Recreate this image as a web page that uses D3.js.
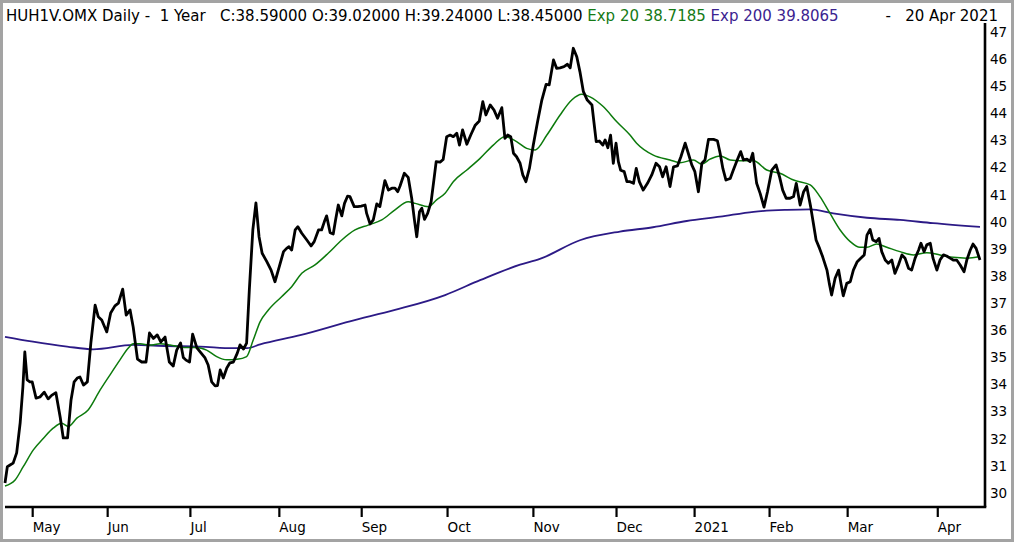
<!DOCTYPE html>
<html>
<head>
<meta charset="utf-8">
<script src="https://cdn.jsdelivr.net/npm/d3@7"></script>
<style>
body { margin: 0; background: #fff; }
text { font-family: "DejaVu Sans", sans-serif; }
.header { white-space: pre; }
</style>
</head>
<body>
<div id="canvas"></div>
<script>
"use strict"

/* Configuration variables: drawing */
let svgWidth = 1014;
let svgHeight = 542;
let plotLeft = 5;
let plotRight = 985;
let plotBottom = 507;

/* Header texts */
let headerMain = "HUH1V.OMX Daily -  1 Year   C:38.59000 O:39.02000 H:39.24000 L:38.45000";
let headerEma20 = "Exp 20 38.7185";
let headerEma200 = "Exp 200 39.8065";
let headerDate = "-   20 Apr 2021";

/* Daily close, x = trading day since start (0 .. 251) */
let closeDay = [0, 0.6, 1.3, 2.1, 3.0, 3.9, 4.6, 5.1, 5.7, 6.4,
    7.0, 8.0, 9.0, 10.1, 11.1, 12.0, 13.1, 14.2, 15.0, 16.1,
    17.0, 17.8, 18.6, 19.3, 20.2, 21.2, 22.1, 23.2, 24.0, 24.9,
    26.2, 27.2, 28.3, 29.2, 30.3, 31.2, 32.2, 33.0, 34.1, 35.2,
    36.3, 37.2, 38.2, 39.2, 40.1, 41.2, 42.3, 43.3, 44.2, 45.2,
    45.9, 46.6, 47.5, 48.3, 49.4, 50.5, 51.5, 52.3, 53.2, 54.1,
    54.7, 55.4, 56.2, 57.1, 57.9, 58.8, 59.8, 60.5, 61.4, 62.2,
    62.9, 63.8, 64.6, 65.4, 66.2, 67.4, 68.5, 69.5, 70.5, 71.7,
    72.5, 73.1, 73.8, 74.7, 75.4, 76.4, 77.7, 78.8, 79.6, 80.7,
    81.5, 82.2, 82.8, 83.7, 84.5, 85.1, 85.8, 86.7, 87.4, 88.2,
    88.8, 89.9, 90.8, 91.7, 92.7, 93.1, 94.0, 94.8, 95.7, 96.5,
    97.8, 98.7, 99.6, 100.4, 101.1, 101.7, 102.8, 103.8, 104.7, 105.4,
    106.0, 106.7, 107.3, 108.0, 108.8, 109.7, 110.3, 111.0, 112.0, 112.8,
    113.7, 114.6, 115.4, 116.3, 117.0, 117.8, 118.9, 119.9, 121.0, 122.1,
    123.0, 123.8, 124.9, 125.9, 126.8, 127.9, 128.7, 129.4, 130.2, 130.9,
    131.7, 132.6, 133.3, 134.1, 135.0, 136.0, 137.1, 138.2, 139.3, 140.1,
    141.2, 142.0, 142.9, 143.9, 144.8, 145.5, 146.3, 147.2, 148.0, 148.9,
    149.9, 151.1, 151.6, 152.2, 153.0, 153.9, 154.5, 155.2, 155.9, 156.6,
    157.3, 157.9, 158.5, 159.4, 160.1, 160.9, 161.8, 162.5, 163.3, 164.3,
    165.4, 166.5, 167.6, 168.5, 169.3, 170.2, 171.2, 172.1, 173.1, 174.0,
    175.1, 175.9, 176.8, 177.6, 178.5, 179.4, 180.2, 181.1, 182.4, 183.4,
    184.1, 184.8, 185.6, 186.7, 187.5, 188.5, 189.4, 190.1, 191.0, 191.8,
    192.5, 193.5, 194.4, 195.4, 196.3, 197.4, 198.5, 199.4, 200.2, 201.1,
    202.1, 203.0, 203.7, 204.7, 205.6, 206.4, 207.4, 208.1, 208.8, 209.7,
    210.5, 211.6, 212.2, 212.8, 213.7, 214.6, 215.2, 215.8, 216.7, 217.6,
    218.4, 219.4, 220.3, 221.2, 221.9, 222.7, 223.4, 224.3, 225.0, 225.7,
    226.6, 227.4, 228.3, 229.1, 230.0, 230.9, 231.7, 232.6, 233.4, 234.3,
    235.2, 235.8, 236.6, 237.3, 238.2, 238.9, 239.9, 240.7, 241.6, 242.4,
    243.3, 244.1, 245.0, 245.9, 246.9, 247.6, 248.5, 249.2, 250.0, 251.0];

let closeValue = [30.37, 30.97, 31.03, 31.10, 31.48, 32.58, 33.90, 35.20, 34.17, 34.10,
    34.10, 33.50, 33.54, 33.72, 33.47, 33.60, 33.70, 32.80, 32.03, 32.03,
    33.43, 34.10, 34.24, 34.28, 33.98, 34.10, 35.53, 36.93, 36.50, 36.38,
    35.94, 36.64, 36.90, 37.00, 37.52, 36.56, 36.75, 36.12, 34.94, 34.83,
    34.83, 35.90, 35.70, 35.83, 35.57, 35.75, 34.83, 34.68, 35.27, 35.53,
    35.00, 34.90, 34.83, 35.86, 35.35, 35.16, 34.98, 34.72, 34.10, 33.95,
    33.96, 34.54, 34.24, 34.61, 34.80, 34.83, 35.16, 35.46, 35.31, 35.53,
    37.49, 39.70, 40.70, 39.45, 38.84, 38.53, 38.22, 37.79, 38.29, 38.90,
    39.02, 39.08, 38.96, 39.70, 39.82, 39.58, 39.33, 39.11, 39.27, 39.70,
    39.70, 40.00, 40.22, 39.60, 39.55, 40.07, 40.62, 40.22, 40.68, 40.95,
    40.93, 40.56, 40.56, 40.58, 40.62, 40.31, 39.92, 40.07, 40.66, 40.56,
    41.52, 41.17, 41.24, 41.24, 41.11, 41.32, 41.79, 41.64, 40.87, 40.07,
    39.45, 40.37, 40.50, 40.09, 40.31, 40.74, 41.42, 42.22, 42.20, 42.30,
    43.14, 43.20, 43.14, 43.27, 42.83, 43.39, 42.86, 43.20, 43.55, 43.72,
    44.43, 43.94, 44.31, 44.12, 43.82, 44.21, 43.08, 43.20, 43.14, 42.53,
    42.40, 42.16, 41.73, 41.48, 41.97, 42.83, 43.69, 44.49, 45.07, 45.05,
    45.97, 45.66, 45.68, 45.72, 45.81, 45.68, 46.40, 46.09, 45.54, 44.80,
    44.49, 44.31, 43.69, 42.96, 42.98, 42.83, 43.02, 42.73, 43.20, 42.16,
    42.90, 42.22, 41.90, 41.85, 41.48, 41.48, 41.42, 41.97, 41.48, 41.17,
    41.42, 41.73, 42.16, 42.03, 41.66, 42.03, 41.30, 42.03, 42.06, 42.40,
    42.90, 42.53, 42.10, 41.85, 41.11, 42.16, 42.28, 43.04, 43.04, 42.99,
    42.53, 41.97, 41.54, 41.60, 41.91, 42.28, 42.59, 42.28, 42.31, 42.22,
    42.53, 41.42, 41.05, 40.54, 41.11, 41.91, 42.10, 41.66, 41.17, 40.87,
    40.87, 40.93, 41.42, 40.62, 41.11, 41.30, 40.56, 39.95, 39.33, 39.02,
    38.71, 38.22, 37.73, 37.30, 37.92, 38.22, 37.73, 37.27, 37.73, 37.79,
    38.22, 38.53, 38.66, 38.78, 39.51, 39.72, 39.33, 39.27, 39.39, 38.90,
    38.59, 38.47, 38.59, 38.10, 38.41, 38.78, 38.66, 38.29, 38.22, 38.66,
    38.96, 39.21, 38.90, 39.15, 39.21, 38.66, 38.22, 38.59, 38.78, 38.74,
    38.66, 38.59, 38.59, 38.41, 38.16, 38.59, 38.96, 39.18, 39.02, 38.59];

/* Exp 20 moving average */
let ema20Day = [0, 2.6, 4.7, 7.3, 9.9, 12.4, 14.6, 16.3, 18.5, 21.4,
    24.5, 27.0, 29.6, 31.7, 33.0, 34.8, 37.3, 39.9, 42.5, 45.9,
    49.4, 51.9, 54.5, 57.1, 59.7, 62.2, 63.9, 65.7, 67.8, 71.2,
    73.8, 76.4, 79.8, 83.2, 86.7, 90.1, 93.5, 97.0, 100.4, 103.8,
    105.6, 109.0, 111.1, 113.3, 115.4, 118.9, 122.3, 125.7, 128.7, 131.7,
    134.3, 136.5, 139.5, 142.9, 145.9, 148.5, 150.6, 154.0, 157.5, 160.9,
    162.6, 166.9, 171.2, 173.8, 177.2, 179.4, 181.5, 184.1, 186.7, 189.2,
    192.7, 196.1, 199.5, 203.0, 207.3, 209.8, 212.4, 215.0, 217.6, 220.1,
    221.9, 224.4, 227.0, 230.4, 233.9, 237.3, 240.7, 244.1, 247.6, 251.0];
let ema20Value = [30.26, 30.48, 30.97, 31.59, 32.02, 32.39, 32.57, 32.45, 32.76, 33.06,
    33.80, 34.35, 34.91, 35.34, 35.50, 35.50, 35.46, 35.50, 35.46, 35.37,
    35.37, 35.27, 35.03, 34.91, 34.93, 35.03, 35.64, 36.32, 36.75, 37.24,
    37.61, 38.10, 38.41, 38.84, 39.33, 39.70, 39.88, 40.07, 40.44, 40.74,
    40.68, 40.56, 40.81, 41.05, 41.48, 41.91, 42.34, 42.83, 43.14, 42.96,
    42.71, 42.65, 43.20, 43.94, 44.49, 44.70, 44.61, 44.25, 43.69, 43.20,
    42.90, 42.46, 42.28, 42.18, 42.28, 42.13, 42.31, 42.43, 42.28, 42.25,
    42.25, 41.91, 41.79, 41.54, 41.36, 40.93, 40.31, 39.70, 39.27, 39.06,
    39.06, 39.18, 39.06, 38.90, 38.78, 38.86, 38.78, 38.69, 38.66, 38.72];

/* Exp 200 moving average */
let ema200Day = [0, 7.2, 16.0, 22.7, 33.0, 41.7, 50.2, 58.7, 62.3, 65.7,
    76.0, 88.8, 100.4, 113.3, 122.3, 132.6, 137.7, 148.0, 158.3, 166.8,
    175.5, 184.1, 192.7, 201.3, 207.3, 213.2, 221.9, 230.4, 238.9, 251.0];
let ema200Value = [35.76, 35.58, 35.40, 35.30, 35.46, 35.42, 35.40, 35.34, 35.34, 35.48,
    35.82, 36.33, 36.75, 37.30, 37.85, 38.42, 38.63, 39.32, 39.64, 39.80,
    40.03, 40.19, 40.37, 40.44, 40.46, 40.31, 40.15, 40.07, 39.95, 39.81];

/* Month ticks (trading day) and price labels */
let monthDay = [7.0, 26.3, 47.6, 70.5, 91.7, 113.8, 135.9, 157.3, 177.4, 196.7, 216.8, 240.0];
let monthLabel = ["May", "Jun", "Jul", "Aug", "Sep", "Oct", "Nov", "Dec", "2021", "Feb", "Mar", "Apr"];
let priceTicks = [30, 31, 32, 33, 34, 35, 36, 37, 38, 39, 40, 41, 42, 43, 44, 45, 46, 47];

/* Create drawing canvas */
let svg = d3.select("#canvas")
    .append("svg")
    .attr("width", svgWidth)
    .attr("height", svgHeight);

/* Grey window frame */
svg.append("rect")
    .attr("x", 1.5)
    .attr("y", 1.5)
    .attr("width", svgWidth - 3)
    .attr("height", svgHeight - 3)
    .attr("fill", "white")
    .attr("stroke", "#a3a3a3")
    .attr("stroke-width", 3);

/* Scales */
let xScale = d3.scaleLinear()
    .domain([0, 251])
    .range([5, 980]);

let yScale = d3.scaleLinear()
    .domain([30, 47])
    .range([493, 32]);

let toPoints = (days, values) => days.map((d, i) => ({ day: d, value: values[i] }));

let lineSharp = d3.line()
    .x(d => xScale(d.day))
    .y(d => yScale(d.value));

let lineSmooth = d3.line()
    .x(d => xScale(d.day))
    .y(d => yScale(d.value))
    .curve(d3.curveMonotoneX);

/* Moving averages first, close line on top */
svg.append("path")
    .datum(toPoints(ema200Day, ema200Value))
    .attr("fill", "none")
    .attr("stroke", "#2c1a86")
    .attr("stroke-width", 1.8)
    .attr("d", lineSmooth);

svg.append("path")
    .datum(toPoints(ema20Day, ema20Value))
    .attr("fill", "none")
    .attr("stroke", "#0c7a0c")
    .attr("stroke-width", 1.5)
    .attr("d", lineSmooth);

svg.append("path")
    .datum(toPoints(closeDay, closeValue))
    .attr("fill", "none")
    .attr("stroke", "black")
    .attr("stroke-width", 2.8)
    .attr("stroke-linejoin", "round")
    .attr("d", lineSharp);

/* Bottom date axis */
let xAxis = d3.axisBottom(xScale)
    .tickValues(monthDay)
    .tickFormat((d, i) => monthLabel[i])
    .tickSize(10)
    .tickSizeOuter(0);

let xAxisGroup = svg.append("g")
    .attr("transform", "translate(0," + plotBottom + ")")
    .call(xAxis);

xAxisGroup.select(".domain").remove();
xAxisGroup.selectAll(".tick line")
    .attr("stroke", "black")
    .attr("stroke-width", 2.2);
xAxisGroup.selectAll(".tick text")
    .attr("text-anchor", "start")
    .attr("x", 0)
    .attr("y", 15)
    .attr("fill", "black")
    .style("font-family", "DejaVu Sans")
    .style("font-size", "13.5px");

/* Right price axis, labels only */
let yAxis = d3.axisRight(yScale)
    .tickValues(priceTicks)
    .tickFormat(d3.format("d"))
    .tickSize(0);

let yAxisGroup = svg.append("g")
    .attr("transform", "translate(" + (plotRight + 2) + ",0)")
    .call(yAxis);

yAxisGroup.select(".domain").remove();
yAxisGroup.selectAll(".tick text")
    .attr("x", 3)
    .attr("fill", "black")
    .style("font-family", "DejaVu Sans")
    .style("font-size", "13.5px");

/* Axis lines */
svg.append("line")
    .attr("x1", plotLeft)
    .attr("x2", plotRight + 1.3)
    .attr("y1", plotBottom)
    .attr("y2", plotBottom)
    .attr("stroke", "black")
    .attr("stroke-width", 2.6);

svg.append("line")
    .attr("x1", plotRight)
    .attr("x2", plotRight)
    .attr("y1", 23)
    .attr("y2", plotBottom)
    .attr("stroke", "black")
    .attr("stroke-width", 2.6);

/* Header line */
let header = svg.append("text")
    .attr("class", "header")
    .attr("x", 6)
    .attr("y", 21)
    .style("font-size", "15px");

header.append("tspan")
    .attr("fill", "black")
    .text(headerMain + " ");
header.append("tspan")
    .attr("fill", "#157a15")
    .text(headerEma20 + " ");
header.append("tspan")
    .attr("fill", "#3b2390")
    .text(headerEma200);

svg.append("text")
    .attr("class", "header")
    .attr("x", 998)
    .attr("y", 21)
    .attr("text-anchor", "end")
    .style("font-size", "15px")
    .text(headerDate);
</script>
</body>
</html>
